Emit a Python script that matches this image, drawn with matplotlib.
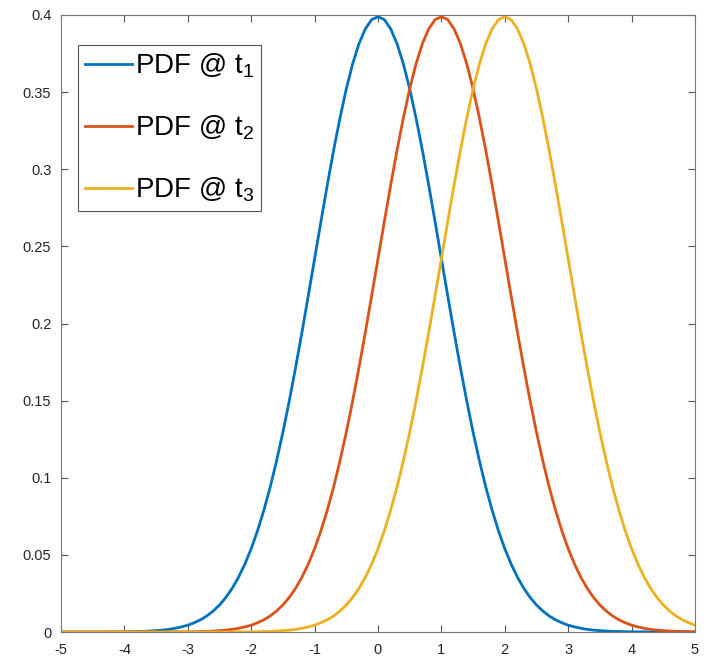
import matplotlib
matplotlib.use("Agg")
import matplotlib.pyplot as plt
import numpy as np

plt.rcParams['font.family'] = ['Liberation Sans', 'DejaVu Sans']
plt.rcParams['mathtext.fontset'] = 'custom'
plt.rcParams['mathtext.rm'] = 'Liberation Sans'
plt.rcParams['mathtext.it'] = 'Liberation Sans'
plt.rcParams['axes.unicode_minus'] = False

x = np.linspace(-5, 5, 101)

pdf_t1 = [0, 0, 0, 0, 0, 0, 0, 0, 0.0001, 0.0001,
          0.0001, 0.0002, 0.0003, 0.0004, 0.0006, 0.0009, 0.0012, 0.0017, 0.0024, 0.0033,
          0.0044, 0.0060, 0.0079, 0.0104, 0.0136, 0.0175, 0.0224, 0.0283, 0.0355, 0.0440,
          0.0540, 0.0656, 0.0790, 0.0940, 0.1109, 0.1295, 0.1497, 0.1714, 0.1942, 0.2179,
          0.2420, 0.2661, 0.2897, 0.3123, 0.3332, 0.3521, 0.3683, 0.3814, 0.3910, 0.3970,
          0.3989,
          0.3970, 0.3910, 0.3814, 0.3683, 0.3521, 0.3332, 0.3123, 0.2897, 0.2661, 0.2420,
          0.2179, 0.1942, 0.1714, 0.1497, 0.1295, 0.1109, 0.0940, 0.0790, 0.0656, 0.0540,
          0.0440, 0.0355, 0.0283, 0.0224, 0.0175, 0.0136, 0.0104, 0.0079, 0.0060, 0.0044,
          0.0033, 0.0024, 0.0017, 0.0012, 0.0009, 0.0006, 0.0004, 0.0003, 0.0002, 0.0001,
          0.0001, 0.0001, 0, 0, 0, 0, 0, 0, 0, 0]

pdf_t2 = [0, 0, 0, 0, 0, 0, 0, 0, 0, 0,
          0, 0, 0, 0, 0, 0, 0, 0, 0.0001, 0.0001,
          0.0001, 0.0002, 0.0003, 0.0004, 0.0006, 0.0009, 0.0012, 0.0017, 0.0024, 0.0033,
          0.0044, 0.0060, 0.0079, 0.0104, 0.0136, 0.0175, 0.0224, 0.0283, 0.0355, 0.0440,
          0.0540, 0.0656, 0.0790, 0.0940, 0.1109, 0.1295, 0.1497, 0.1714, 0.1942, 0.2179,
          0.2420, 0.2661, 0.2897, 0.3123, 0.3332, 0.3521, 0.3683, 0.3814, 0.3910, 0.3970,
          0.3989,
          0.3970, 0.3910, 0.3814, 0.3683, 0.3521, 0.3332, 0.3123, 0.2897, 0.2661, 0.2420,
          0.2179, 0.1942, 0.1714, 0.1497, 0.1295, 0.1109, 0.0940, 0.0790, 0.0656, 0.0540,
          0.0440, 0.0355, 0.0283, 0.0224, 0.0175, 0.0136, 0.0104, 0.0079, 0.0060, 0.0044,
          0.0033, 0.0024, 0.0017, 0.0012, 0.0009, 0.0006, 0.0004, 0.0003, 0.0002, 0.0001]

pdf_t3 = [0, 0, 0, 0, 0, 0, 0, 0, 0, 0,
          0, 0, 0, 0, 0, 0, 0, 0, 0, 0,
          0, 0, 0, 0, 0, 0, 0, 0, 0.0001, 0.0001,
          0.0001, 0.0002, 0.0003, 0.0004, 0.0006, 0.0009, 0.0012, 0.0017, 0.0024, 0.0033,
          0.0044, 0.0060, 0.0079, 0.0104, 0.0136, 0.0175, 0.0224, 0.0283, 0.0355, 0.0440,
          0.0540, 0.0656, 0.0790, 0.0940, 0.1109, 0.1295, 0.1497, 0.1714, 0.1942, 0.2179,
          0.2420, 0.2661, 0.2897, 0.3123, 0.3332, 0.3521, 0.3683, 0.3814, 0.3910, 0.3970,
          0.3989,
          0.3970, 0.3910, 0.3814, 0.3683, 0.3521, 0.3332, 0.3123, 0.2897, 0.2661, 0.2420,
          0.2179, 0.1942, 0.1714, 0.1497, 0.1295, 0.1109, 0.0940, 0.0790, 0.0656, 0.0540,
          0.0440, 0.0355, 0.0283, 0.0224, 0.0175, 0.0136, 0.0104, 0.0079, 0.0060, 0.0044]

labels = [r'PDF @ t$_1$', r'PDF @ t$_2$', r'PDF @ t$_3$']
colors = ['#0072BD', '#D95319', '#EDB120']
x_ticks = [-5, -4, -3, -2, -1, 0, 1, 2, 3, 4, 5]
y_ticks = [0, 0.05, 0.1, 0.15, 0.2, 0.25, 0.3, 0.35, 0.4]
y_ticklabels = ['0', '0.05', '0.1', '0.15', '0.2', '0.25', '0.3', '0.35', '0.4']

fig = plt.figure(figsize=(7.10, 6.58), dpi=100)
ax = fig.add_axes([61/710, 1 - 632/658, (695-61)/710, (632-15)/658])

for ys, lab, c in zip([pdf_t1, pdf_t2, pdf_t3], labels, colors):
    ax.plot(x, ys, color=c, linewidth=2.0, label=lab)

ax.set_xlim(-5, 5)
ax.set_ylim(0, 0.4)
ax.set_xticks(x_ticks)
ax.set_xticklabels([str(t) for t in x_ticks])
ax.set_yticks(y_ticks)
ax.set_yticklabels(y_ticklabels)
ax.tick_params(direction='in', top=True, right=True, length=5, width=0.8,
               color='#555555', labelsize=10.5, labelcolor='#262626')
ax.tick_params(axis='x', pad=8)
ax.tick_params(axis='y', pad=7)
for s in ax.spines.values():
    s.set_color('#777777')
    s.set_linewidth(0.8)

leg = ax.legend(loc='upper left', bbox_to_anchor=(17/634, 1 - 30/617),
                fontsize=20, handlelength=1.7, handletextpad=0.1,
                borderpad=0.25, labelspacing=1.2, fancybox=False,
                framealpha=1, borderaxespad=0)
leg.get_frame().set_edgecolor('#555555')
leg.get_frame().set_linewidth(0.8)

fig.savefig('out.png', dpi=100)
